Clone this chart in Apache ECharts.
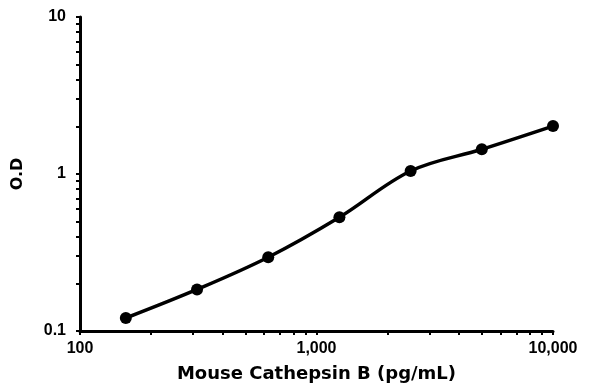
<!DOCTYPE html>
<html>
<head>
<meta charset="utf-8">
<script src="https://cdn.jsdelivr.net/npm/echarts@6/dist/echarts.min.js"></script>
<style>
  html, body { margin: 0; padding: 0; background: #fff; }
  #chart { width: 596px; height: 392px; }
</style>
</head>
<body>
<div id="chart"></div>
<script>
// standard concentrations (pg/mL) and measured O.D
var concentrations = [156.25, 312.5, 625, 1250, 2500, 5000, 10000];
var odValues = [0.121, 0.184, 0.295, 0.53, 1.045, 1.437, 2.02];

var xLabelValues = [100, 1000, 10000];
var yLabelValues = [0.1, 1, 10];
var xTickValues = [100, 200, 300, 400, 500, 600, 700, 800, 900,
  1000, 2000, 3000, 4000, 5000, 6000, 7000, 8000, 9000, 10000];
var yTickValues = [0.1, 0.2, 0.3, 0.4, 0.5, 0.6, 0.7, 0.8, 0.9,
  1, 2, 3, 4, 5, 6, 7, 8, 9, 10];

var points = []
for (var i = 0; i < concentrations.length; i++) {
  points.push([concentrations[i], odValues[i]])
}

var labelFont = 'Liberation Sans'
var titleFont = 'DejaVu Sans'

var chart = echarts.init(document.getElementById('chart'))
chart.setOption({
  animation: false,
  grid: { left: 80, right: 43, top: 17, bottom: 61, containLabel: false },
  xAxis: {
    type: 'log',
    logBase: 10,
    min: 100,
    max: 10000,
    name: 'Mouse Cathepsin B (pg/mL)',
    nameLocation: 'middle',
    nameGap: 34,
    nameTextStyle: { fontFamily: titleFont, fontWeight: 'bold', fontSize: 18, color: '#000' },
    axisLine: { lineStyle: { color: '#000', width: 3 } },
    axisTick: { show: true, inside: false, length: 4, customValues: xTickValues, lineStyle: { color: '#000', width: 2 } },
    axisLabel: {
      customValues: xLabelValues,
      margin: 10,
      fontFamily: labelFont, fontWeight: 'bold', fontSize: 16, color: '#000',
      formatter: function (v) { return Math.round(v).toLocaleString('en-US') }
    },
    splitLine: { show: false },
    minorTick: { show: false }
  },
  yAxis: {
    type: 'log',
    logBase: 10,
    min: 0.1,
    max: 10,
    name: 'O.D',
    nameLocation: 'middle',
    nameRotate: 90,
    nameGap: 54,
    nameTextStyle: { fontFamily: titleFont, fontWeight: 'bold', fontSize: 16, color: '#000' },
    axisLine: { show: true, lineStyle: { color: '#000', width: 3 } },
    axisTick: { show: true, inside: false, length: 4, customValues: yTickValues, lineStyle: { color: '#000', width: 2 } },
    axisLabel: {
      customValues: yLabelValues,
      margin: 14,
      fontFamily: labelFont, fontWeight: 'bold', fontSize: 16, color: '#000',
      formatter: function (v) {
        if (v < 0.5) return '0.1'
        return String(Math.round(v))
      }
    },
    splitLine: { show: false }
  },
  series: [{
    type: 'line',
    data: points,
    smooth: 0.35,
    symbol: 'circle',
    symbolSize: 12,
    itemStyle: { color: '#000' },
    lineStyle: { color: '#000', width: 3.5 }
  }]
})
</script>
</body>
</html>
